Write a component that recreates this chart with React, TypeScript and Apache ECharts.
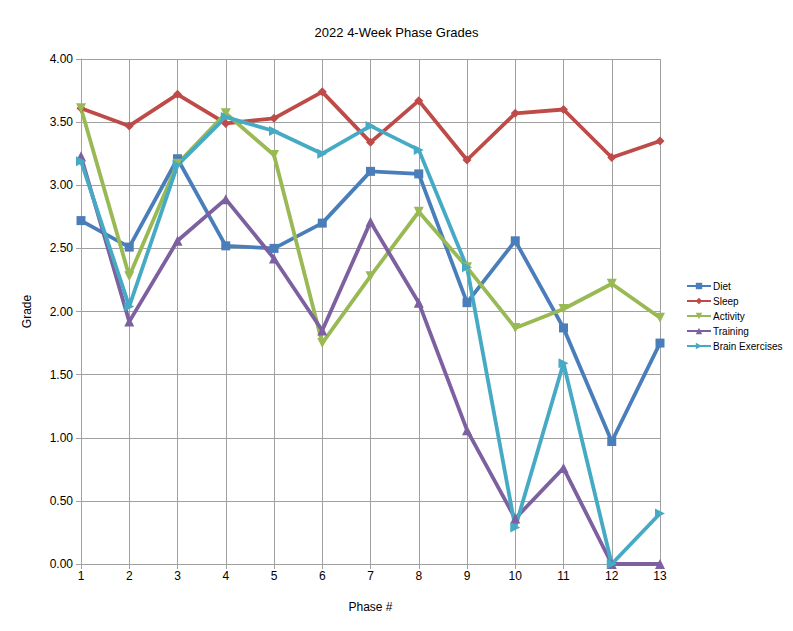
import React, { useEffect, useRef } from "react";
import * as echarts from "echarts";

const phases = ["1", "2", "3", "4", "5", "6", "7", "8", "9", "10", "11", "12", "13"];
const diet = [2.72, 2.51, 3.21, 2.52, 2.5, 2.7, 3.11, 3.09, 2.07, 2.56, 1.87, 0.97, 1.75];
const sleep = [3.61, 3.47, 3.72, 3.49, 3.53, 3.74, 3.34, 3.67, 3.2, 3.57, 3.6, 3.22, 3.35];
const activity = [3.61, 2.28, 3.17, 3.57, 3.24, 1.75, 2.28, 2.79, 2.35, 1.87, 2.02, 2.22, 1.95];
const training = [3.23, 1.92, 2.56, 2.89, 2.42, 1.85, 2.71, 2.07, 1.06, 0.36, 0.76, 0, 0];
const brain = [3.19, 2.04, 3.16, 3.54, 3.43, 3.25, 3.47, 3.28, 2.35, 0.29, 1.59, 0, 0.4];

const seriesDefs = [
  { name: "Diet", data: diet, color: "#4a7ebb", symbol: "rect", size: 9, rotate: 0 },
  { name: "Sleep", data: sleep, color: "#be4b48", symbol: "diamond", size: 9, rotate: 0 },
  { name: "Activity", data: activity, color: "#98b954", symbol: "triangle", size: 10, rotate: 180 },
  { name: "Training", data: training, color: "#7d60a0", symbol: "triangle", size: 10, rotate: 0 },
  { name: "Brain Exercises", data: brain, color: "#46aac5", symbol: "triangle", size: 10, rotate: -90 },
];

const FONT = "Liberation Sans";

export default function App() {
  const ref = useRef<HTMLDivElement>(null);
  useEffect(() => {
    if (!ref.current) return;
    const chart = echarts.init(ref.current, undefined, { renderer: "svg" });
    chart.setOption({
      animation: false,
      backgroundColor: "#ffffff",
      title: {
        text: "2022 4-Week Phase Grades",
        left: "center",
        top: 21,
        textStyle: { fontFamily: FONT, fontSize: 13, fontWeight: "normal", color: "#000" },
      },
      legend: {
        orient: "vertical",
        left: 681,
        top: 276,
        itemWidth: 24,
        itemHeight: 8,
        itemGap: 5,
        textStyle: { fontFamily: FONT, fontSize: 10, color: "#000", padding: [0, 0, 0, -3] },
        data: seriesDefs.map((s) => s.name),
      },
      grid: { left: 81, right: 133, top: 59, bottom: 67, containLabel: false },
      xAxis: {
        type: "category",
        data: phases,
        boundaryGap: false,
        name: "Phase #",
        nameLocation: "middle",
        nameGap: 37,
        nameTextStyle: { fontFamily: FONT, fontSize: 12, color: "#000" },
        axisLine: { lineStyle: { color: "#a0a0a0" } },
        axisTick: { show: true, length: 5, lineStyle: { color: "#a0a0a0" } },
        axisLabel: { fontFamily: FONT, fontSize: 12, color: "#000", margin: 6 },
        splitLine: { show: true, lineStyle: { color: "#a0a0a0", width: 1 } },
      },
      yAxis: {
        type: "value",
        min: 0,
        max: 4,
        interval: 0.5,
        name: "Grade",
        nameLocation: "middle",
        nameGap: 48,
        nameRotate: 90,
        nameTextStyle: { fontFamily: FONT, fontSize: 12, color: "#000" },
        axisLine: { show: true, lineStyle: { color: "#a0a0a0" } },
        axisTick: { show: true, length: 5, lineStyle: { color: "#a0a0a0" } },
        axisLabel: {
          fontFamily: FONT,
          fontSize: 12,
          color: "#000",
          margin: 8,
          formatter: (v: number) => v.toFixed(2),
        },
        splitLine: { show: true, lineStyle: { color: "#a0a0a0", width: 1 } },
      },
      series: seriesDefs.map((s) => ({
        name: s.name,
        type: "line",
        data: s.data,
        color: s.color,
        symbol: s.symbol,
        symbolSize: s.size,
        symbolRotate: s.rotate,
        showSymbol: true,
        lineStyle: { width: 3.8, color: s.color },
        itemStyle: { color: s.color },
      })),
    });
    return () => chart.dispose();
  }, []);
  return <div ref={ref} style={{ width: 793, height: 631, position: "absolute", left: 0, top: 0 }} />;
}
